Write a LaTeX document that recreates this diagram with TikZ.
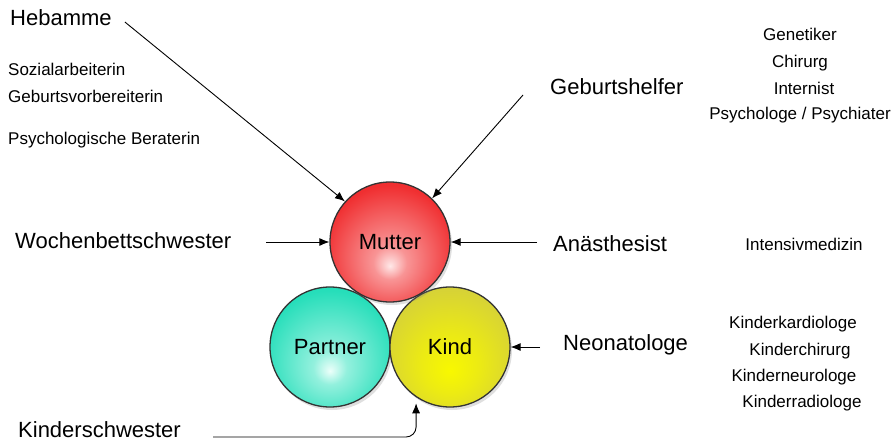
\documentclass[tikz,border=0pt]{standalone}
\usepackage{fontspec}
\setmainfont{Liberation Sans}
\usetikzlibrary{arrows.meta,shadows}

\definecolor{mutterrot}{RGB}{240,46,48}
\definecolor{mutterhell}{RGB}{255,232,232}
\definecolor{partnergruen}{RGB}{38,222,186}
\definecolor{partnerhell}{RGB}{236,255,250}
\definecolor{kindoliv}{RGB}{200,194,78}
\definecolor{kindgelb}{RGB}{248,248,0}
\pgfdeclareradialshading{mutterglow}{\pgfpoint{0bp}{-10bp}}{color(0bp)=(mutterhell); color(7bp)=(mutterhell!55!mutterrot); color(28bp)=(mutterrot); color(50bp)=(mutterrot!92!black)}
\pgfdeclareradialshading{partnerglow}{\pgfpoint{0bp}{-10bp}}{color(0bp)=(partnerhell); color(7bp)=(partnerhell!55!partnergruen); color(28bp)=(partnergruen); color(50bp)=(partnergruen!92!black)}
\pgfdeclareradialshading{kindglow}{\pgfpoint{0bp}{-10bp}}{color(0bp)=(kindgelb); color(12bp)=(kindgelb!75!kindoliv); color(40bp)=(kindoliv); color(52bp)=(kindoliv!92!black)}

\begin{document}
\begin{tikzpicture}[
  x=1pt, y=-1pt,
  font=\fontsize{17}{20}\selectfont,
  lbl/.style={inner sep=0pt, anchor=base west},
  lblc/.style={inner sep=0pt, anchor=base},
  big/.style={font=\fontsize{22}{26}\selectfont},
  ball/.style={circle, draw=black!80, line width=1.3pt, minimum size=120pt, inner sep=0pt, shade, big,
    drop shadow={opacity=0.25, shadow xshift=2pt, shadow yshift=-3pt}},
  arrow/.style={-{Latex[length=10pt,width=8pt]}, line width=0.9pt}
]
\useasboundingbox (0,0) rectangle (896,444);

\node[lbl, big] (hebamme) at (10,26) {Hebamme};
\node[lbl] (sozial) at (8,75) {Sozialarbeiterin};
\node[lbl] (geburtsvorb) at (8,102) {Geburtsvorbereiterin};
\node[lbl] (psychber) at (8,144) {Psychologische Beraterin};
\node[lbl, big] (wochen) at (15,248) {Wochenbettschwester};
\node[lbl, big] (kinderschw) at (18,437) {Kinderschwester};

\node[lbl, big] (geburtshelfer) at (550,94) {Geburtshelfer};
\node[lbl, big] (anaesth) at (553,251) {Anästhesist};
\node[lbl, big] (neo) at (563,350) {Neonatologe};

\node[lblc] (genetiker) at (800,41) {Genetiker};
\node[lblc] (chirurg) at (800,67) {Chirurg};
\node[lblc] (internist) at (804,94) {Internist};
\node[lblc] (psychiater) at (800,119) {Psychologe / Psychiater};
\node[lblc] (intensiv) at (804,250) {Intensivmedizin};
\node[lblc] (kardio) at (793,328) {Kinderkardiologe};
\node[lblc] (kchirurg) at (800,355) {Kinderchirurg};
\node[lblc] (kneuro) at (794,381) {Kinderneurologe};
\node[lblc] (kradio) at (802,407) {Kinderradiologe};

\node[ball, shading=partnerglow] (partner) at (330,347) {Partner};
\node[ball, shading=kindglow] (kind) at (450,347) {Kind};
\node[ball, shading=mutterglow] (mutter) at (390,242) {Mutter};

\draw[arrow] ([xshift=13pt,yshift=4pt]hebamme.base east) -- (mutter.138);
\draw[arrow] ([xshift=-27pt,yshift=-1pt]geburtshelfer.base west) -- (mutter.46);
\draw[arrow] ([xshift=35pt,yshift=6pt]wochen.base east) -- (mutter.west);
\draw[arrow] ([xshift=-16pt,yshift=9pt]anaesth.base west) -- (mutter.east);
\draw[arrow] ([xshift=-23pt,yshift=3pt]neo.base west) -- (kind.east);
\draw[arrow, rounded corners=10pt, shorten >=6pt] ([xshift=32pt]kinderschw.base east) -| (kind.236);
\end{tikzpicture}
\end{document}
